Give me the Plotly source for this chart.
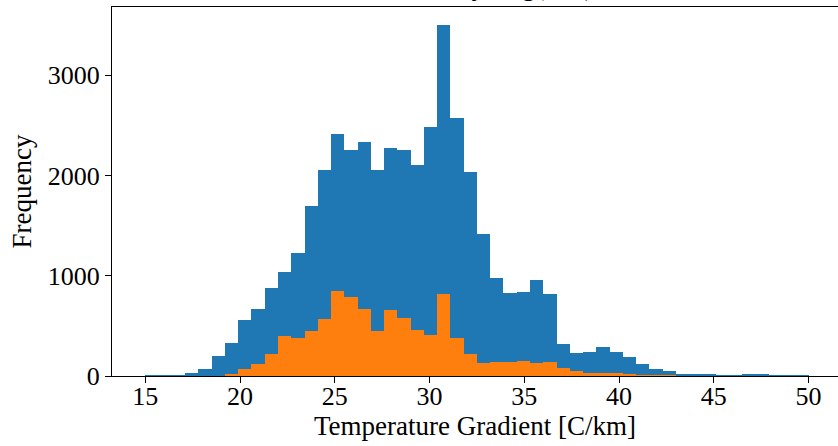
import plotly.graph_objects as go

bin_start = 15.0
bin_width = 0.7

all_counts = [7, 7, 8, 28, 70, 200, 331, 555, 668, 878,
              1038, 1227, 1696, 2049, 2415, 2252, 2335, 2049, 2275, 2249,
              2106, 2478, 3496, 2575, 2029, 1417, 978, 832, 838, 958,
              815, 318, 230, 242, 292, 243, 193, 122, 72, 54,
              15, 19, 13, 10, 10, 13, 23, 10, 3, 2]

subset_counts = [0, 0, 0, 0, 0, 0, 15, 65, 116, 220,
                 402, 375, 449, 566, 845, 788, 668, 452, 655, 582,
                 459, 412, 818, 382, 219, 133, 140, 143, 150, 133,
                 137, 77, 45, 33, 27, 25, 20, 8, 3, 2,
                 0, 0, 0, 0, 0, 0, 0, 0, 0, 0]

x_ticks = [15, 20, 25, 30, 35, 40, 45, 50]
y_ticks = [0, 1000, 2000, 3000]

centers = [bin_start + bin_width * (i + 0.5) for i in range(len(all_counts))]

FONT = "Liberation Serif"
fig = go.Figure()
fig.add_trace(go.Bar(x=centers, y=all_counts, width=bin_width,
                     marker=dict(color="#1f77b4", line=dict(width=0)), showlegend=False))
fig.add_trace(go.Bar(x=centers, y=subset_counts, width=bin_width,
                     marker=dict(color="#ff7f0e", line=dict(width=0)), showlegend=False))

fig.update_layout(
    width=838, height=446,
    margin=dict(l=112, r=0, t=7, b=70),
    barmode="overlay", bargap=0,
    plot_bgcolor="white", paper_bgcolor="white",
    font=dict(family=FONT, size=26, color="black"),
    annotations=[dict(text="Permeability [log(mD)]", xref="paper", yref="paper",
                      x=0.5, y=1, xanchor="center", yanchor="bottom", yshift=4,
                      showarrow=False, font=dict(family=FONT, size=27, color="black"))],
)
fig.update_xaxes(range=[13.243, 51.55], tickvals=x_ticks, ticktext=[str(v) for v in x_ticks],
                 showline=True, linecolor="black", linewidth=1, mirror=True,
                 ticks="outside", ticklen=6, tickcolor="black", showgrid=False, zeroline=False,
                 ticklabelstandoff=-9,
                 title=dict(text="Temperature Gradient [C/km]", standoff=0,
                            font=dict(family=FONT, size=27)),
                 tickfont=dict(family=FONT, size=26))
fig.update_yaxes(range=[0, 3679], tickvals=y_ticks, ticktext=[str(v) for v in y_ticks],
                 showline=True, linecolor="black", linewidth=1, mirror=False,
                 ticks="outside", ticklen=6, tickcolor="black", showgrid=False, zeroline=False,
                 title=dict(text="Frequency", standoff=8, font=dict(family=FONT, size=27)),
                 tickfont=dict(family=FONT, size=26))

fig.write_html("out.html")
